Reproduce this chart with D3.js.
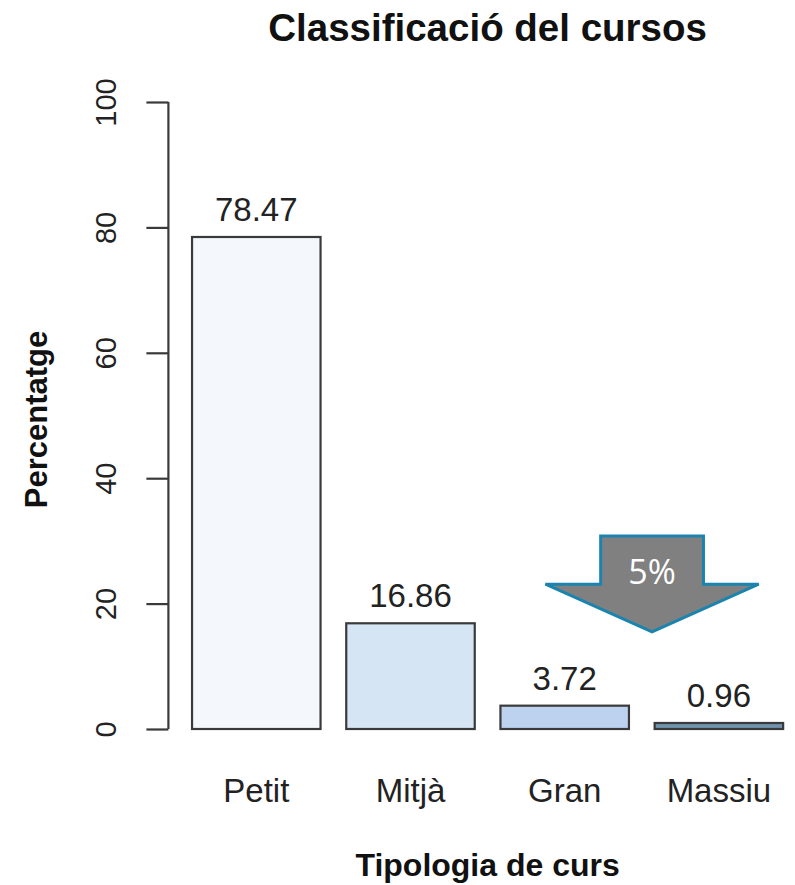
<!DOCTYPE html>
<html>
<head>
<meta charset="utf-8">
<script src="https://cdn.jsdelivr.net/npm/d3@7"></script>
<style>
  html, body { margin: 0; padding: 0; background: #fff; }
  svg { display: block; font-family: "Liberation Sans", Arial, Helvetica, sans-serif; }
</style>
</head>
<body>
<svg id="chart" width="795" height="885"></svg>
<script>
// ---- data ----
const categories = ["Petit", "Mitjà", "Gran", "Massiu"];
const values = [78.47, 16.86, 3.72, 0.96];
const barColors = ["#F4F8FD", "#D5E5F4", "#BCD2EE", "#6F93AC"];
const yTicks = [0, 20, 40, 60, 80, 100];
const titleText = "Classificació del cursos";
const xTitle = "Tipologia de curs";
const yTitle = "Percentatge";
const arrowLabel = "5%";

// ---- layout (R barplot style: width 1, space 0.2) ----
const svg = d3.select("#chart");
const barWidth = 1, space = 0.2;
const lefts = categories.map((c, i) => space + i * (barWidth + space));
const xMin = lefts[0], xMax = lefts[lefts.length - 1] + barWidth;
const pad = (xMax - xMin) * 0.04;
const unitPx = 128.5;
const plotLeft = 168.4;
const x = d3.scaleLinear()
  .domain([xMin - pad, xMax + pad])
  .range([plotLeft, plotLeft + (xMax - xMin + 2 * pad) * unitPx]);
const y = d3.scaleLinear().domain([0, 100]).range([729, 102]);
const plotCenter = (x.range()[0] + x.range()[1]) / 2;

// bars
svg.append("g").selectAll("rect")
  .data(values)
  .join("rect")
  .attr("x", (d, i) => x(lefts[i]))
  .attr("width", (d, i) => x(lefts[i] + barWidth) - x(lefts[i]))
  .attr("y", d => y(d))
  .attr("height", d => y(0) - y(d))
  .attr("fill", (d, i) => barColors[i])
  .attr("stroke", "#3a3a3a")
  .attr("stroke-width", 2.2);

// value labels
svg.append("g").selectAll("text")
  .data(values)
  .join("text")
  .attr("x", (d, i) => x(lefts[i] + barWidth / 2))
  .attr("y", d => y(d) - 16)
  .attr("text-anchor", "middle")
  .attr("font-size", 33)
  .attr("fill", "#222")
  .text(d => d.toFixed(2));

// category labels
svg.append("g").selectAll("text")
  .data(categories)
  .join("text")
  .attr("x", (d, i) => x(lefts[i] + barWidth / 2))
  .attr("y", 802)
  .attr("text-anchor", "middle")
  .attr("font-size", 33)
  .attr("fill", "#222")
  .text(d => d);

// y axis
const yAxis = svg.append("g")
  .attr("transform", `translate(${x.range()[0]},0)`)
  .call(d3.axisLeft(y).tickValues(yTicks).tickSize(22).tickSizeOuter(0).tickFormat(d3.format("d")));
yAxis.select(".domain")
  .attr("stroke", "#3a3a3a").attr("stroke-width", 2.2)
  .attr("d", `M0,${y(0)}V${y(100)}`);
yAxis.selectAll(".tick line").attr("stroke", "#3a3a3a").attr("stroke-width", 2.2);
yAxis.selectAll(".tick text")
  .attr("transform", "rotate(-90)")
  .attr("x", 0)
  .attr("y", -62)
  .attr("dy", null)
  .attr("dominant-baseline", "central")
  .attr("text-anchor", "middle")
  .attr("font-size", 29)
  .attr("font-family", "Liberation Sans, Arial, sans-serif")
  .attr("fill", "#222");

// titles
svg.append("text")
  .attr("x", plotCenter).attr("y", 41)
  .attr("text-anchor", "middle")
  .attr("font-size", 38.5).attr("font-weight", "bold").attr("fill", "#111")
  .text(titleText);
svg.append("text")
  .attr("x", plotCenter).attr("y", 876)
  .attr("text-anchor", "middle")
  .attr("font-size", 32).attr("font-weight", "bold").attr("fill", "#111")
  .text(xTitle);
svg.append("text")
  .attr("transform", `translate(47,${(y(0) + y(100)) / 2 + 4}) rotate(-90)`)
  .attr("text-anchor", "middle")
  .attr("font-size", 31).attr("font-weight", "bold").attr("fill", "#111")
  .text(yTitle);

// arrow annotation (positioned in data units)
const arrow = { cx: 3.78, shaftHalf: 0.40, headHalf: 0.83, top: 30.8, base: 23.1, tip: 15.5 };
const ap = [
  [arrow.cx - arrow.shaftHalf, arrow.top],
  [arrow.cx + arrow.shaftHalf, arrow.top],
  [arrow.cx + arrow.shaftHalf, arrow.base],
  [arrow.cx + arrow.headHalf, arrow.base],
  [arrow.cx, arrow.tip],
  [arrow.cx - arrow.headHalf, arrow.base],
  [arrow.cx - arrow.shaftHalf, arrow.base]
].map(p => [x(p[0]), y(p[1])]);
svg.append("path")
  .attr("d", d3.line()(ap) + "Z")
  .attr("fill", "#808080")
  .attr("stroke", "#1A84AE")
  .attr("stroke-width", 3)
  .attr("stroke-linejoin", "miter");
svg.append("text")
  .attr("x", x(arrow.cx))
  .attr("y", y((arrow.top + arrow.base) / 2 - 3.8))
  .attr("text-anchor", "middle")
  .attr("font-family", "Open Sans, Lato, sans-serif")
  .attr("font-size", 34)
  .attr("fill", "#fff")
  .text(arrowLabel);
</script>
</body>
</html>
